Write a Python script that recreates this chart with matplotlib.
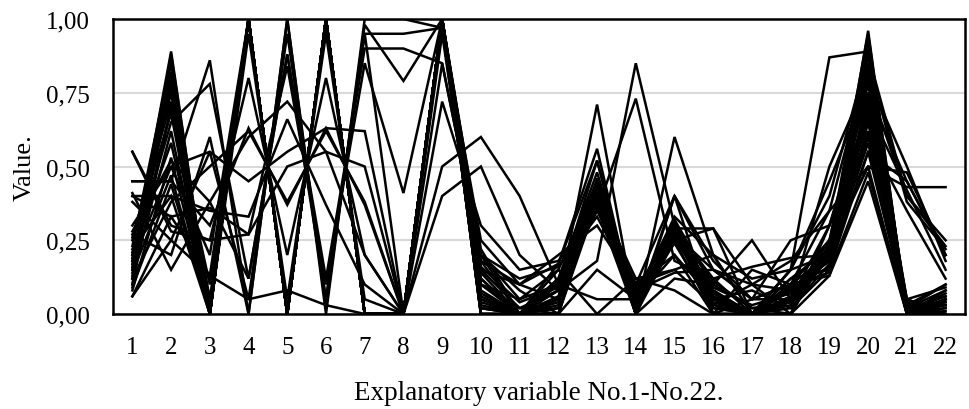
import numpy as np
from matplotlib import pyplot as plt

plt.rcParams['font.family'] = ['Liberation Serif', 'DejaVu Serif']

# explanatory variables No.1 - No.22
variables = list(range(1, 23))
y_ticks = [0.0, 0.25, 0.5, 0.75, 1.0]
y_tick_labels = ['0,00', '0,25', '0,50', '0,75', '1,00']

# profiles with var4 = 1, var5 = 0, var6 = 1, var7 = 0
group_a = [
    [0.18, 0.89, 0.00, 1.00, 0.00, 1.00, 0.00, 0.00, 1.00, 0.02, 0.00, 0.05, 0.44, 0.02, 0.30, 0.05, 0.00, 0.05, 0.20, 0.96, 0.00, 0.05],
    [0.15, 0.85, 0.00, 1.00, 0.00, 1.00, 0.00, 0.00, 1.00, 0.05, 0.00, 0.10, 0.40, 0.05, 0.28, 0.08, 0.00, 0.08, 0.18, 0.90, 0.02, 0.03],
    [0.12, 0.80, 0.05, 1.00, 0.00, 1.00, 0.00, 0.00, 1.00, 0.10, 0.00, 0.02, 0.42, 0.00, 0.32, 0.02, 0.00, 0.10, 0.25, 0.85, 0.00, 0.08],
    [0.20, 0.75, 0.00, 1.00, 0.00, 1.00, 0.00, 0.00, 1.00, 0.15, 0.02, 0.00, 0.38, 0.08, 0.25, 0.10, 0.02, 0.00, 0.22, 0.80, 0.05, 0.00],
    [0.10, 0.70, 0.10, 1.00, 0.00, 1.00, 0.00, 0.00, 1.00, 0.00, 0.00, 0.08, 0.35, 0.10, 0.20, 0.00, 0.00, 0.12, 0.15, 0.75, 0.00, 0.05],
    [0.25, 0.68, 0.00, 1.00, 0.00, 1.00, 0.00, 0.00, 1.00, 0.20, 0.05, 0.15, 0.45, 0.03, 0.27, 0.15, 0.05, 0.05, 0.30, 0.70, 0.03, 0.10],
    [0.08, 0.53, 0.00, 1.00, 0.00, 1.00, 0.00, 0.00, 1.00, 0.03, 0.00, 0.00, 0.43, 0.00, 0.30, 0.05, 0.00, 0.00, 0.13, 0.65, 0.00, 0.02],
    [0.18, 0.50, 0.20, 1.00, 0.00, 1.00, 0.00, 0.00, 1.00, 0.08, 0.00, 0.12, 0.48, 0.05, 0.33, 0.20, 0.00, 0.15, 0.20, 0.60, 0.05, 0.00],
    [0.14, 0.47, 0.00, 0.95, 0.05, 0.95, 0.05, 0.00, 1.00, 0.12, 0.00, 0.05, 0.40, 0.12, 0.15, 0.03, 0.10, 0.08, 0.18, 0.55, 0.02, 0.06],
    [0.22, 0.40, 0.00, 1.00, 0.00, 1.00, 0.00, 0.00, 1.00, 0.18, 0.10, 0.17, 0.52, 0.02, 0.29, 0.12, 0.00, 0.05, 0.25, 0.50, 0.00, 0.04],
    [0.06, 0.33, 0.13, 1.00, 0.00, 1.00, 0.00, 0.00, 1.00, 0.00, 0.00, 0.10, 0.36, 0.00, 0.25, 0.00, 0.05, 0.10, 0.14, 0.48, 0.00, 0.00],
    [0.17, 0.78, 0.00, 1.00, 0.00, 1.00, 0.00, 0.00, 0.95, 0.05, 0.00, 0.00, 0.44, 0.06, 0.31, 0.06, 0.00, 0.04, 0.20, 0.82, 0.04, 0.03],
    [0.26, 0.72, 0.00, 1.00, 0.00, 1.00, 0.00, 0.00, 1.00, 0.22, 0.00, 0.05, 0.40, 0.04, 0.28, 0.00, 0.00, 0.00, 0.22, 0.72, 0.00, 0.07],
    [0.10, 0.88, 0.00, 1.00, 0.00, 1.00, 0.00, 0.00, 1.00, 0.00, 0.00, 0.03, 0.41, 0.00, 0.28, 0.03, 0.00, 0.02, 0.17, 0.93, 0.00, 0.02],
    [0.16, 0.82, 0.00, 1.00, 0.00, 1.00, 0.00, 0.00, 1.00, 0.06, 0.00, 0.06, 0.39, 0.03, 0.26, 0.04, 0.00, 0.06, 0.19, 0.88, 0.03, 0.04],
    [0.19, 0.76, 0.02, 1.00, 0.00, 1.00, 0.00, 0.00, 1.00, 0.04, 0.00, 0.02, 0.46, 0.02, 0.30, 0.07, 0.00, 0.03, 0.21, 0.83, 0.01, 0.06],
    [0.13, 0.62, 0.00, 1.00, 0.00, 1.00, 0.00, 0.00, 1.00, 0.10, 0.02, 0.08, 0.43, 0.07, 0.32, 0.09, 0.03, 0.07, 0.23, 0.78, 0.00, 0.03],
    [0.21, 0.58, 0.00, 1.00, 0.00, 1.00, 0.00, 0.00, 1.00, 0.14, 0.00, 0.04, 0.37, 0.04, 0.24, 0.02, 0.00, 0.09, 0.16, 0.68, 0.02, 0.08],
    [0.09, 0.44, 0.00, 1.00, 0.00, 1.00, 0.00, 0.00, 1.00, 0.02, 0.00, 0.11, 0.45, 0.01, 0.29, 0.11, 0.02, 0.04, 0.19, 0.58, 0.00, 0.01],
    [0.23, 0.86, 0.00, 1.00, 0.00, 1.00, 0.00, 0.00, 1.00, 0.07, 0.00, 0.00, 0.44, 0.00, 0.31, 0.00, 0.00, 0.00, 0.24, 0.95, 0.00, 0.00],
    [0.15, 0.70, 0.00, 1.00, 0.00, 1.00, 0.00, 0.00, 1.00, 0.16, 0.04, 0.09, 0.42, 0.09, 0.27, 0.06, 0.00, 0.08, 0.20, 0.74, 0.05, 0.09],
]

# profiles with var4 = 0, var5 = 1, var6 = 0, var7 = 1
group_b = [
    [0.27, 0.20, 0.60, 0.00, 1.00, 0.00, 1.00, 1.00, 0.97, 0.02, 0.00, 0.17, 0.56, 0.00, 0.60, 0.20, 0.00, 0.15, 0.40, 0.88, 0.40, 0.25],
    [0.38, 0.25, 0.55, 0.05, 0.95, 0.05, 0.95, 0.95, 0.97, 0.10, 0.05, 0.10, 0.52, 0.02, 0.40, 0.15, 0.05, 0.10, 0.35, 0.85, 0.38, 0.22],
    [0.41, 0.15, 0.38, 0.12, 0.88, 0.12, 0.90, 0.90, 0.85, 0.20, 0.00, 0.00, 0.15, 0.05, 0.25, 0.29, 0.10, 0.00, 0.30, 0.75, 0.45, 0.20],
    [0.45, 0.45, 0.86, 0.00, 1.00, 0.02, 0.98, 0.79, 1.00, 0.15, 0.10, 0.05, 0.71, 0.00, 0.12, 0.10, 0.25, 0.05, 0.50, 0.80, 0.50, 0.18],
    [0.55, 0.28, 0.25, 0.27, 0.84, 0.10, 0.85, 0.41, 1.00, 0.00, 0.00, 0.08, 0.18, 0.85, 0.30, 0.05, 0.00, 0.10, 0.20, 0.70, 0.42, 0.15],
]

# profiles with intermediate values on var4 - var7
group_c = [
    [0.45, 0.45, 0.30, 0.63, 0.37, 0.63, 0.37, 0.00, 1.00, 0.18, 0.00, 0.12, 0.42, 0.05, 0.27, 0.08, 0.00, 0.10, 0.25, 0.66, 0.00, 0.05],
    [0.55, 0.30, 0.25, 0.80, 0.20, 0.80, 0.20, 0.00, 0.72, 0.30, 0.15, 0.18, 0.35, 0.73, 0.18, 0.12, 0.16, 0.19, 0.20, 0.62, 0.02, 0.10],
    [0.30, 0.50, 0.55, 0.45, 0.55, 0.63, 0.62, 0.00, 0.40, 0.50, 0.20, 0.08, 0.44, 0.00, 0.29, 0.29, 0.00, 0.12, 0.22, 0.50, 0.48, 0.20],
    [0.40, 0.40, 0.35, 0.33, 0.66, 0.37, 0.10, 0.00, 0.50, 0.60, 0.40, 0.10, 0.05, 0.05, 0.20, 0.05, 0.08, 0.02, 0.15, 0.55, 0.45, 0.20],
    [0.28, 0.52, 0.38, 0.60, 0.72, 0.55, 0.20, 0.00, 0.97, 0.25, 0.10, 0.20, 0.30, 0.10, 0.15, 0.20, 0.12, 0.15, 0.45, 0.78, 0.40, 0.23],
    [0.12, 0.38, 0.50, 0.62, 0.38, 0.62, 0.38, 0.00, 0.85, 0.20, 0.08, 0.00, 0.40, 0.10, 0.40, 0.18, 0.05, 0.25, 0.30, 0.60, 0.35, 0.12],
    [0.20, 0.65, 0.78, 0.12, 0.88, 0.05, 0.95, 0.00, 1.00, 0.12, 0.00, 0.15, 0.00, 0.12, 0.08, 0.00, 0.15, 0.10, 0.13, 0.45, 0.00, 0.00],
    [0.40, 0.33, 0.36, 0.27, 0.50, 0.55, 0.50, 0.00, 1.00, 0.20, 0.12, 0.16, 0.33, 0.08, 0.14, 0.15, 0.10, 0.18, 0.35, 0.50, 0.43, 0.43],
    [0.06, 0.25, 0.13, 0.05, 0.08, 0.03, 0.00, 0.00, 1.00, 0.00, 0.00, 0.10, 0.40, 0.00, 0.40, 0.00, 0.00, 0.15, 0.87, 0.89, 0.00, 0.05],
]

fig = plt.figure(figsize=(9.7, 4.1), dpi=100)
ax = fig.add_axes([0.1165, 0.2317, 0.8783, 0.7195])

for row in group_a + group_b + group_c:
    ax.plot(variables, row, color='black', linewidth=1.8, solid_joinstyle='miter')

ax.set_xlim(0.5, 22.5)
ax.set_ylim(0, 1)
ax.set_xticks(variables)
ax.set_yticks(y_ticks)
ax.set_yticklabels(y_tick_labels)
ax.yaxis.grid(True, color='#d9d9d9', linewidth=1.5)
ax.set_axisbelow(True)
ax.tick_params(axis='both', length=0, labelsize=18)
ax.tick_params(axis='x', pad=15.5)
ax.tick_params(axis='y', pad=17)
for s in ax.spines.values():
    s.set_linewidth(1.8)
    s.set_color('black')

ax.set_xlabel('Explanatory variable No.1-No.22.', fontsize=19.5, labelpad=16)
ax.set_ylabel('Value.', fontsize=19, labelpad=7)

fig.savefig('out.png', dpi=100)
